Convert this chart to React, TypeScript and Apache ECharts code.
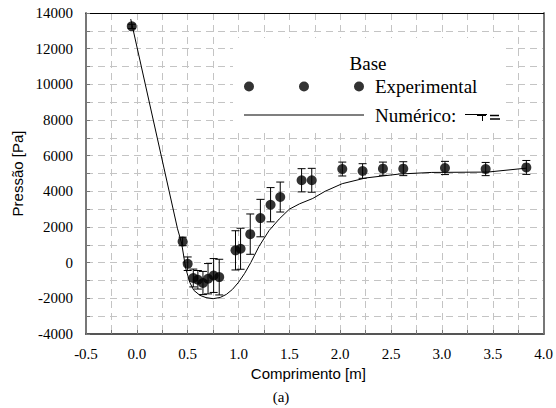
import React, { useEffect, useRef } from "react";
import * as echarts from "echarts";

// Experimental points (Comprimento [m], Pressão [Pa], error half-width [Pa])
const expX = [-0.05, 0.45, 0.5, 0.555, 0.6, 0.65, 0.7, 0.755, 0.81, 0.97, 1.02, 1.115, 1.215, 1.315, 1.41, 1.62, 1.72, 2.02, 2.22, 2.42, 2.62, 3.03, 3.43, 3.83];
const expY = [13250, 1190, -60, -860, -960, -1140, -900, -720, -810, 690, 780, 1600, 2500, 3250, 3680, 4620, 4620, 5250, 5140, 5270, 5270, 5310, 5250, 5340];
const expErr = [120, 240, 380, 500, 520, 650, 850, 950, 1000, 1100, 1150, 1130, 1050, 960, 840, 650, 670, 390, 410, 370, 390, 370, 370, 390];

// Numerical curve
const numX = [-0.06, 0.4, 0.44, 0.48, 0.52, 0.56, 0.62, 0.68, 0.75, 0.82, 0.88, 0.94, 1.0, 1.06, 1.12, 1.2, 1.3, 1.4, 1.5, 1.6, 1.73, 1.85, 2.02, 2.25, 2.58, 2.9, 3.45, 3.83];
const numY = [13660, 1900, 1100, -300, -1100, -1550, -1830, -1960, -2020, -1950, -1780, -1500, -1100, -600, 0, 900, 1800, 2450, 3000, 3300, 3600, 4000, 4430, 4750, 4970, 5060, 5080, 5300];

const xMin = -0.5;
const xMax = 4.0;
const xStep = 0.5;
const yMin = -4000;
const yMax = 14000;
const yStep = 2000;

const SERIF = "Liberation Serif";
const SANS = "Liberation Sans";

const threeDots =
  "path://M0,5a5,5 0 1,0 10,0a5,5 0 1,0 -10,0Z M55,5a5,5 0 1,0 10,0a5,5 0 1,0 -10,0Z M110,5a5,5 0 1,0 10,0a5,5 0 1,0 -10,0Z";
const thinLine =
  "path://M0,0L0.01,0L0.01,0.01Z M0,4.5L120,4.5L120,5.5L0,5.5Z M119.99,9.99L120,9.99L120,10Z";

export default function App() {
  const ref = useRef<HTMLDivElement>(null);

  useEffect(() => {
    const chart = echarts.init(ref.current!, null, { renderer: "svg" });
    const gridLine = { show: true, lineStyle: { color: "#c4c4c4", type: [7, 5], width: 1 } };

    chart.setOption({
      animation: false,
      backgroundColor: "#fff",
      grid: { left: 86, right: 11, top: 13, bottom: 74 },
      xAxis: [
        {
          type: "value",
          min: xMin,
          max: xMax,
          interval: xStep,
          position: "bottom",
          name: "Comprimento [m]",
          nameLocation: "middle",
          nameGap: 31,
          nameTextStyle: { fontFamily: SANS, fontSize: 15, color: "#000", padding: [0, 13, 0, 0] },
          axisLine: { show: true, onZero: false, lineStyle: { color: "#555", width: 2 } },
          axisTick: { show: true, inside: true, length: 4, lineStyle: { color: "#777" } },
          minorTick: { show: true, splitNumber: 2, length: 4, lineStyle: { color: "#777" } },
          axisLabel: {
            fontFamily: SERIF,
            fontSize: 15,
            color: "#000",
            margin: 12,
            formatter: (v: number) => v.toFixed(1),
          },
          splitLine: gridLine,
          minorSplitLine: gridLine,
        },
        {
          type: "value",
          min: xMin,
          max: xMax,
          interval: xStep,
          position: "top",
          axisLine: { show: true, onZero: false, lineStyle: { color: "#000", width: 1 } },
          axisTick: { show: false },
          axisLabel: { show: false },
          splitLine: { show: false },
        },
      ],
      yAxis: [
        {
          type: "value",
          min: yMin,
          max: yMax,
          interval: yStep,
          position: "left",
          name: "Pressão [Pa]",
          nameLocation: "middle",
          nameGap: 61,
          nameTextStyle: { fontFamily: SANS, fontSize: 15, color: "#000" },
          axisLine: { show: true, onZero: false, lineStyle: { color: "#777", width: 2 } },
          axisTick: { show: true, inside: true, length: 4, lineStyle: { color: "#777" } },
          minorTick: { show: true, splitNumber: 2, length: 4, lineStyle: { color: "#777" } },
          axisLabel: {
            fontFamily: SERIF,
            fontSize: 15,
            color: "#000",
            margin: 13,
            formatter: (v: number) => String(v),
          },
          splitLine: gridLine,
          minorSplitLine: gridLine,
        },
        {
          type: "value",
          min: yMin,
          max: yMax,
          interval: yStep,
          position: "right",
          axisLine: { show: true, onZero: false, lineStyle: { color: "#777", width: 2 } },
          axisTick: { show: false },
          axisLabel: { show: false },
          splitLine: { show: false },
        },
      ],
      legend: {
        left: 244,
        top: 77,
        orient: "vertical",
        itemWidth: 120,
        itemHeight: 10,
        itemGap: 9.5,
        padding: 0,
        selectedMode: false,
        textStyle: { fontFamily: SERIF, fontSize: 19, color: "#000", padding: [0, 0, 0, 6] },
        data: [
          { name: "Experimental", icon: threeDots, itemStyle: { color: "#000" } },
          { name: "Numérico:", icon: thinLine, itemStyle: { color: "#000" } },
        ],
      },
      graphic: [
        { type: "rect", z: 1, shape: { x: 233, y: 38, width: 270, height: 92 }, style: { fill: "#fff" } },
        {
          type: "text",
          z: 5,
          x: 368,
          y: 63,
          style: { text: "Base", fontFamily: SERIF, fontSize: 19, fill: "#000", textAlign: "center", textVerticalAlign: "middle" },
        },
        { type: "line", z: 5, shape: { x1: 465, y1: 114.5, x2: 487, y2: 114.5 }, style: { stroke: "#000", lineWidth: 1 } },
        { type: "rect", z: 5, shape: { x: 477, y: 114, width: 9, height: 2 }, style: { fill: "#000" } },
        { type: "line", z: 5, shape: { x1: 482.5, y1: 115, x2: 482.5, y2: 121 }, style: { stroke: "#000", lineWidth: 1 } },
        { type: "line", z: 5, shape: { x1: 490, y1: 115.5, x2: 499, y2: 115.5 }, style: { stroke: "#000", lineWidth: 1.5 } },
        { type: "line", z: 5, shape: { x1: 490, y1: 119, x2: 500, y2: 119 }, style: { stroke: "#000", lineWidth: 1.5 } },
        {
          type: "text",
          x: 281,
          y: 397,
          style: { text: "(a)", fontFamily: SERIF, fontSize: 15, fill: "#000", textAlign: "center", textVerticalAlign: "middle" },
        },
      ],
      series: [
        {
          name: "Numérico:",
          type: "line",
          xAxisIndex: 0,
          yAxisIndex: 0,
          data: numX.map((x, i) => [x, numY[i]]),
          symbol: "none",
          showSymbol: false,
          smooth: false,
          lineStyle: { color: "#000", width: 1 },
          itemStyle: { color: "#000" },
          z: 3,
        },
        {
          name: "Erro",
          type: "custom",
          xAxisIndex: 0,
          yAxisIndex: 0,
          data: expX.map((x, i) => [x, expY[i], expErr[i]]),
          encode: { x: 0, y: [1, 2] },
          renderItem: (_params: any, api: any) => {
            const x = api.value(0);
            const y = api.value(1);
            const e = api.value(2);
            const p1 = api.coord([x, y + e]);
            const p2 = api.coord([x, y - e]);
            const hw = 4;
            const style = { stroke: "#000", lineWidth: 1, fill: "none" };
            return {
              type: "group",
              children: [
                { type: "line", shape: { x1: p1[0], y1: p1[1], x2: p2[0], y2: p2[1] }, style },
                { type: "line", shape: { x1: p1[0] - hw, y1: p1[1], x2: p1[0] + hw, y2: p1[1] }, style },
                { type: "line", shape: { x1: p2[0] - hw, y1: p2[1], x2: p2[0] + hw, y2: p2[1] }, style },
              ],
            };
          },
          z: 3,
        },
        {
          name: "Experimental",
          type: "scatter",
          xAxisIndex: 0,
          yAxisIndex: 0,
          data: expX.map((x, i) => [x, expY[i]]),
          symbol: "circle",
          symbolSize: 10,
          itemStyle: { color: "#000" },
          z: 4,
        },
      ],
    });
    return () => chart.dispose();
  }, []);

  return (
    <div
      ref={ref}
      style={{ position: "fixed", left: 0, top: 0, width: 556, height: 408, background: "#fff" }}
    />
  );
}
